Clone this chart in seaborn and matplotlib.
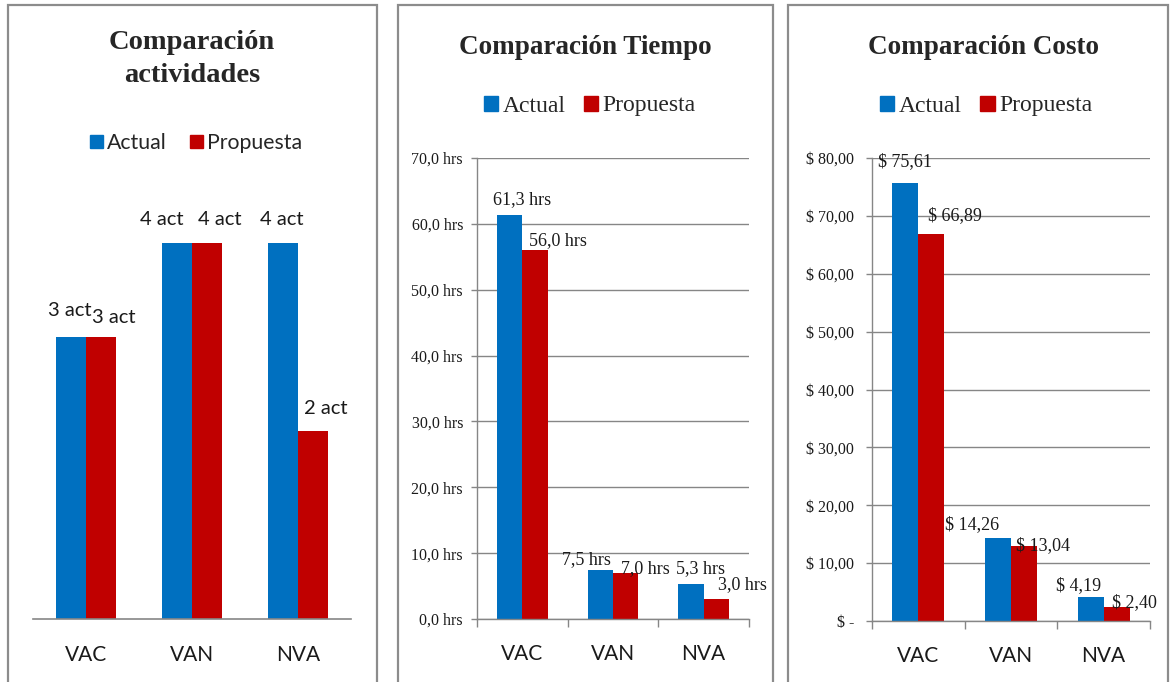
import matplotlib
matplotlib.use("Agg")
import matplotlib.pyplot as plt
from matplotlib.patches import Rectangle
from matplotlib.ticker import FuncFormatter, FixedLocator
import pandas as pd
import seaborn as sns

# ---- data ----
categorias = ["VAC", "VAN", "NVA"]
series = ["Actual", "Propuesta"]

actividades_actual = [3, 4, 4]
actividades_propuesta = [3, 4, 2]

tiempo_actual = [61.3, 7.5, 5.3]
tiempo_propuesta = [56.0, 7.0, 3.0]

costo_actual = [75.61, 14.26, 4.19]
costo_propuesta = [66.89, 13.04, 2.40]

titulos = ["Comparación\nactividades", "Comparación Tiempo", "Comparación Costo"]

# label placement per series: (horizontal shift, gap above bar) in pixels
pos_actividades = [[(-1, 21), (-15, 18), (-1, 18)], [(13, 14), (13, 18), (13, 17)]]
pos_tiempo = [[(12, 11), (-14, 6), (10, 11)], [(23, 5), (20, 0), (26, 10)]]
pos_costo = [[(0, 17), (-26, 9), (-12, 7)], [(24, 14), (19, -5), (18, 0)]]

AZUL = "#0070C0"
ROJO = "#C00000"
GRIS = "#868686"
BORDE = "#8C8C8C"

SERIF = "Liberation Serif"
SANS = "Lato"

sns.set_theme(style="white")
plt.rcParams["font.family"] = ["Liberation Serif", "DejaVu Sans"]

W, H = 1172, 682
PX = 72 / 100  # points per pixel at 100 dpi
fig = plt.figure(figsize=(W / 100, H / 100), dpi=100)


def fx(x):
    return x / W


def fy(y):
    return 1 - y / H


def frame(x0, x1, y0):
    fig.patches.append(Rectangle((fx(x0), fy(H + 10)), fx(x1) - fx(x0), fy(y0) - fy(H + 10),
                                 transform=fig.transFigure, fill=False,
                                 edgecolor=BORDE, linewidth=1.6, zorder=0))


def make_axes(left, right, top, bottom):
    return fig.add_axes([fx(left), fy(bottom), fx(right) - fx(left), fy(top) - fy(bottom)])


def long_df(actual, propuesta):
    return pd.DataFrame({
        "categoria": categorias * 2,
        "serie": [series[0]] * 3 + [series[1]] * 3,
        "valor": list(actual) + list(propuesta),
    })


def draw_bars(ax, actual, propuesta, width):
    sns.barplot(data=long_df(actual, propuesta), x="categoria", y="valor", hue="serie",
                hue_order=series, order=categorias, palette=[AZUL, ROJO],
                width=width, linewidth=0, saturation=1, legend=False, ax=ax)


def label_bars(ax, fmt, placement, font, size):
    for cont, places in zip(ax.containers, placement):
        for rect, (dx, gap) in zip(cont.patches, places):
            v = rect.get_height()
            ax.annotate(fmt(v), (rect.get_x() + rect.get_width() / 2, v),
                        xytext=(dx * PX, gap * PX), textcoords="offset points",
                        ha="center", va="baseline", family=font, fontsize=size,
                        color="#1a1a1a", zorder=5)


def add_legend(ax, cx, cy, font, size, spacing):
    handles = [Rectangle((0, 0), 1, 1, color=AZUL), Rectangle((0, 0), 1, 1, color=ROJO)]
    ax.legend(handles, series, loc="center", bbox_to_anchor=(fx(cx), fy(cy)),
              bbox_transform=fig.transFigure, ncol=2, frameon=False,
              handlelength=0.6, handleheight=0.6, handletextpad=0.2,
              columnspacing=spacing, prop={"family": font, "size": size})


def style_x(ax, pad, ticks):
    ax.set_xlabel("")
    ax.set_ylabel("")
    ax.tick_params(axis="x", length=0, pad=pad, labelsize=15, colors="#1a1a1a")
    for t in ax.get_xticklabels():
        t.set_family(SANS)
    ax.set_xlim(-0.5, 2.5)
    if ticks:
        ax.xaxis.set_minor_locator(FixedLocator([-0.5, 0.5, 1.5, 2.5]))
        ax.tick_params(axis="x", which="minor", length=6, width=1, color=GRIS,
                       direction="out", bottom=True)


def coma(v, dec):
    return f"{v:.{dec}f}".replace(".", ",")


# ---- panel 1: actividades ----
frame(8, 377, 5)
ax1 = make_axes(33, 351, 196, 619)
draw_bars(ax1, actividades_actual, actividades_propuesta, 0.57)
ax1.set_ylim(0, 4.5)
ax1.set_yticks([])
for s in ["left", "top", "right"]:
    ax1.spines[s].set_visible(False)
ax1.spines["bottom"].set_color(GRIS)
ax1.spines["bottom"].set_linewidth(1.2)
style_x(ax1, 19, False)
label_bars(ax1, lambda v: f"{v:.0f} act", pos_actividades, SANS, 14.5)
add_legend(ax1, 196, 143, SANS, 15.3, 1.1)
fig.text(fx(192), fy(59), titulos[0], ha="center", va="center", family=SERIF,
         fontsize=20.5, fontweight="bold", linespacing=1.45)

# ---- panel 2: tiempo ----
frame(398, 773, 5)
ax2 = make_axes(477, 749, 158, 619)
draw_bars(ax2, tiempo_actual, tiempo_propuesta, 0.56)
ax2.set_ylim(0, 70)
ax2.set_yticks(range(0, 71, 10))
ax2.yaxis.set_major_formatter(FuncFormatter(lambda v, p: f"{coma(v, 1)} hrs"))
label_bars(ax2, lambda v: f"{coma(v, 1)} hrs", pos_tiempo, SERIF, 13)
add_legend(ax2, 590, 106, SERIF, 17, 0.75)
fig.text(fx(585), fy(47), titulos[1], ha="center", va="center", family=SERIF,
         fontsize=19.5, fontweight="bold")

# ---- panel 3: costo ----
frame(788, 1168, 5)
ax3 = make_axes(872, 1150, 158, 621)
draw_bars(ax3, costo_actual, costo_propuesta, 0.56)
ax3.set_ylim(0, 80)
ax3.set_yticks(range(0, 81, 10))
ax3.yaxis.set_major_formatter(
    FuncFormatter(lambda v, p: "$ -" if v == 0 else f"$ {coma(v, 2)}"))
label_bars(ax3, lambda v: f"$ {coma(v, 2)}", pos_costo, SERIF, 13)
add_legend(ax3, 986, 106, SERIF, 17, 0.8)
fig.text(fx(983), fy(47), titulos[2], ha="center", va="center", family=SERIF,
         fontsize=19.5, fontweight="bold")

for ax, pad, lsize in [(ax2, 6, 11.5), (ax3, 9, 11.5)]:
    ax.yaxis.grid(True, color=GRIS, linewidth=1)
    ax.set_axisbelow(True)
    for s in ["top", "right"]:
        ax.spines[s].set_visible(False)
    for s in ["left", "bottom"]:
        ax.spines[s].set_color(GRIS)
        ax.spines[s].set_linewidth(1)
    ax.tick_params(axis="y", left=True, length=4, width=1, color=GRIS, direction="out",
                   pad=pad, labelsize=lsize, colors="#1a1a1a")
    for t in ax.get_yticklabels():
        t.set_family(SERIF)
    style_x(ax, 18, True)

fig.savefig("out.png", dpi=100, facecolor="white")
